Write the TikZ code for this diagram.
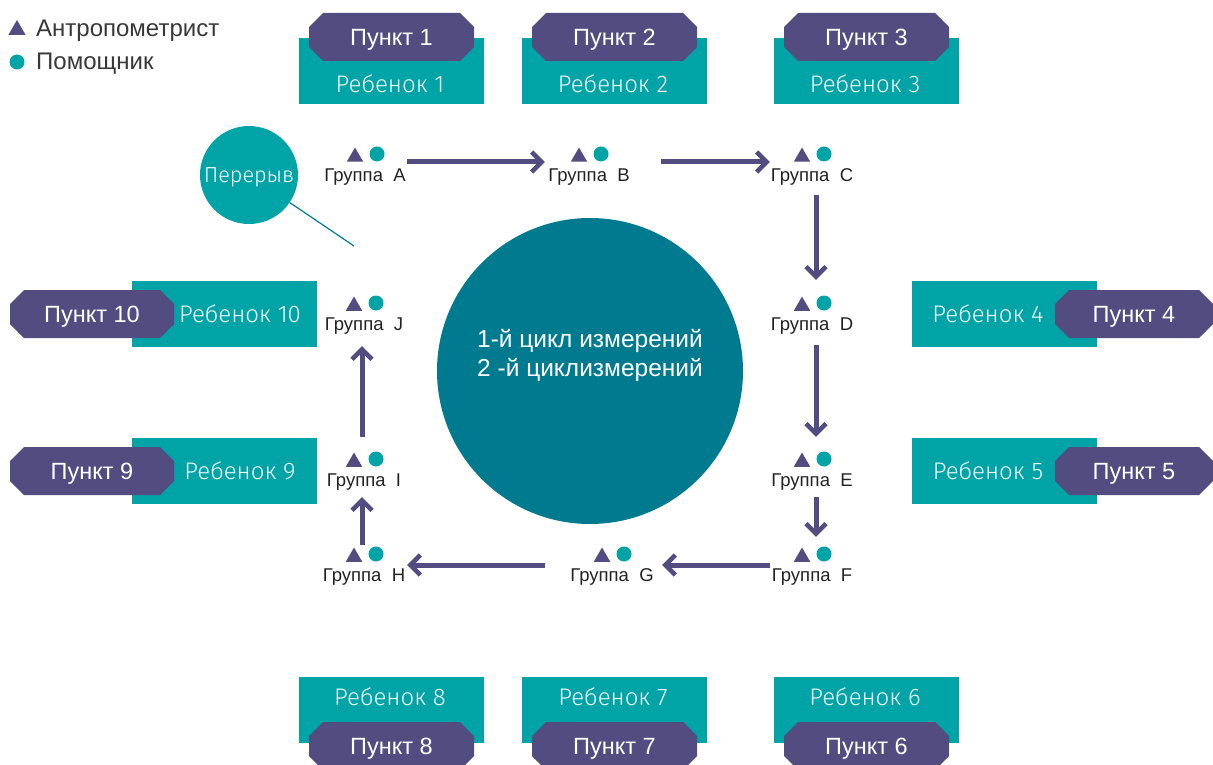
\documentclass[tikz,border=0pt]{standalone}
\usepackage{fontspec}
\setmainfont{Liberation Sans}
\newfontfamily\lightfont{Fira Sans Light}
\usetikzlibrary{arrows.meta,shapes.geometric}
\definecolor{pur}{RGB}{82,76,128}
\definecolor{teal1}{RGB}{0,164,166}
\definecolor{dteal}{RGB}{0,122,143}
\definecolor{txt}{RGB}{34,34,34}
\begin{document}
\begin{tikzpicture}[x=1pt,y=-1pt,
  punkt/.style={rectangle, text height=16.8pt, text depth=0pt, minimum width=165pt, minimum height=48pt,
    inner sep=0pt, text=white, font=\fontsize{23.5}{26}\selectfont,
    path picture={\fill[pur]
      ([xshift=14pt]path picture bounding box.north west) --
      ([xshift=-14pt]path picture bounding box.north east) --
      ([yshift=-14pt]path picture bounding box.north east) --
      ([yshift=14pt]path picture bounding box.south east) --
      ([xshift=-14pt]path picture bounding box.south east) --
      ([xshift=14pt]path picture bounding box.south west) --
      ([yshift=14pt]path picture bounding box.south west) --
      ([yshift=-14pt]path picture bounding box.north west) -- cycle;}},
  rbox/.style={rectangle, fill=teal1, minimum width=185pt, minimum height=66pt, inner sep=0pt},
  rtext/.style={inner sep=0pt, text height=16.5pt, text depth=0pt, text=white!95!teal1,
    font=\lightfont\fontsize{24}{28}\selectfont},
  grp/.style={text height=13.2pt, text depth=0pt, minimum width=84pt, minimum height=20pt,
    inner sep=0pt, text=txt, font=\fontsize{18.5}{22}\selectfont},
  tri/.style={regular polygon, regular polygon sides=3, fill=pur, minimum size=19pt, inner sep=0pt},
  dot/.style={circle, fill=teal1, minimum size=15pt, inner sep=0pt},
  leg/.style={inner sep=0pt, text height=17.2pt, text depth=0pt, text=txt!90,
    font=\fontsize{24}{28}\selectfont},
  arr/.style={draw=pur, line width=5pt,
    -{Straight Barb[length=10pt,width=20pt,line width=4.5pt]}}
]
\useasboundingbox (0,0) rectangle (1213,765);
\clip (0,0) rectangle (1213,765);

% legend
\node[tri, minimum size=20pt] (lt) at (17,30) {};
\node[leg, anchor=west] (l1) at (36,27.5) {Антропометрист};
\node[dot] (ld) at (17,62) {};
\node[leg, anchor=west] (l2) at (36,61) {Помощник};

% top boxes
\node[rbox] (r1) at (391.5,71) {};
\node[rtext] (t1) at (390,84) {Ребенок 1};
\node[punkt] (p1) at (391.5,37) {Пункт 1};
\node[rbox] (r2) at (614.5,71) {};
\node[rtext] (t2) at (613,84) {Ребенок 2};
\node[punkt] (p2) at (614.5,37) {Пункт 2};
\node[rbox] (r3) at (866.5,71) {};
\node[rtext] (t3) at (865,84) {Ребенок 3};
\node[punkt] (p3) at (866.5,37) {Пункт 3};

% bottom boxes
\node[rbox] (r8) at (391.5,710) {};
\node[rtext] (t8) at (390,697) {Ребенок 8};
\node[punkt] (p8) at (391.5,746) {Пункт 8};
\node[rbox] (r7) at (614.5,710) {};
\node[rtext] (t7) at (613,697) {Ребенок 7};
\node[punkt] (p7) at (614.5,746) {Пункт 7};
\node[rbox] (r6) at (866.5,710) {};
\node[rtext] (t6) at (865,697) {Ребенок 6};
\node[punkt] (p6) at (866.5,746) {Пункт 6};

% left boxes
\node[rbox] (r10) at (224,314) {};
\node[rtext] (t10) at (240,314) {Ребенок 10};
\node[punkt, minimum width=164pt] (p10) at (92,314) {Пункт 10};
\node[rbox] (r9) at (224,471) {};
\node[rtext] (t9) at (240,471) {Ребенок 9};
\node[punkt, minimum width=164pt] (p9) at (92,471) {Пункт 9};

% right boxes
\node[rbox] (r4) at (1004.5,314) {};
\node[rtext] (t4) at (988,314) {Ребенок 4};
\node[punkt, minimum width=158pt] (p4) at (1134,314) {Пункт 4};
\node[rbox] (r5) at (1004.5,471) {};
\node[rtext] (t5) at (988,471) {Ребенок 5};
\node[punkt, minimum width=158pt] (p5) at (1134,471) {Пункт 5};

% centre circle
\node[circle, fill=dteal, minimum size=306pt, inner sep=0pt] (cyc) at (590,371) {};
\node[align=center, text=white, inner sep=0pt, font=\fontsize{24.5}{29}\selectfont] (cyct) at (590,355)
  {1-й цикл измерений\\ 2 -й циклизмерений};

% break
\node[circle, text height=15pt, text depth=0pt, fill=teal1, minimum size=98pt, inner sep=0pt,
  text=white, font=\lightfont\fontsize{21.7}{25}\selectfont] (brk) at (249,175) {Перерыв};
\coordinate (brkend) at (354,246);
\draw[dteal, line width=1.2pt] (brk) -- (brkend);

% groups
\foreach \n/\x/\y in {A/365/175, B/589/175, C/812/175, D/812/324, E/812/480,
                      F/812/575, G/612/575, H/364/575, I/364/480, J/364/324}{
  \node[grp] (\n) at (\x,\y) {Группа~~\n};
  \node[tri] (\n-t) at (\x-10,\y-18) {};
  \node[dot] (\n-d) at (\x+12,\y-21) {};
}

% arrows
\draw[arr, shorten >=2pt] ([yshift=13pt]A.east) -- ([yshift=13pt]B.west);
\draw[arr, shorten <=30pt] ([yshift=13pt]B.east) -- ([yshift=13pt]C.west);
\draw[arr, shorten <=10pt, shorten >=34pt] ([xshift=4pt]C.south) -- ([xshift=4pt]D.north);
\draw[arr, shorten <=11pt, shorten >=33pt] ([xshift=4pt]D.south) -- ([xshift=4pt]E.north);
\draw[arr, shorten <=7pt, shorten >=28pt] ([xshift=4pt]E.south) -- ([xshift=4pt]F.north);
\draw[arr, shorten >=8pt] ([yshift=10pt]F.west) -- ([yshift=10pt]G.east);
\draw[arr, shorten <=25pt, shorten >=1pt] ([yshift=10pt]G.west) -- ([yshift=10pt]H.east);
\draw[arr, shorten <=20pt, shorten >=7pt] ([xshift=-2pt]H.north) -- ([xshift=-2pt]I.south);
\draw[arr, shorten <=33pt, shorten >=12pt] ([xshift=-2pt]I.north) -- ([xshift=-2pt]J.south);
\end{tikzpicture}
\end{document}
